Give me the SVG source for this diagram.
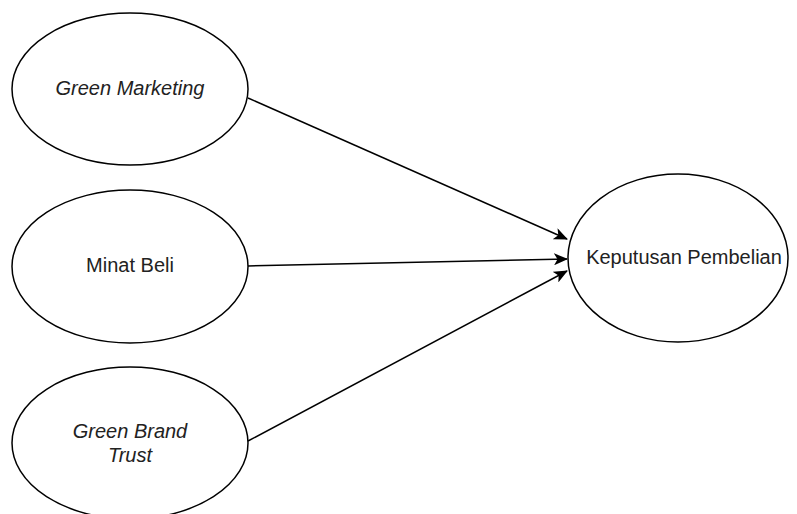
<svg xmlns="http://www.w3.org/2000/svg" width="797" height="514" viewBox="0 0 797 514">
<defs>
<style>
.node{fill:#fff;stroke:#000;stroke-width:1.5}
.lbl{font-family:"Liberation Sans",Arial,sans-serif;font-size:20px;fill:#222;text-anchor:middle;dominant-baseline:central}
.it{font-style:italic}
.edge{stroke:#000;stroke-width:1.5;fill:none;marker-end:url(#arr)}
</style>
<marker id="arr" markerWidth="14" markerHeight="12" refX="13" refY="6" orient="auto" markerUnits="userSpaceOnUse">
<path d="M0,0 L14,6 L0,12 L3.5,6 Z" fill="#000"/>
</marker>
</defs>
<rect width="797" height="514" fill="#fff"/>
<g id="edges">
<path class="edge" d="M248,98 L567,239"/>
<path class="edge" d="M248,266 L567,259"/>
<path class="edge" d="M248,441 L567,271"/>
</g>
<g id="green-marketing">
<ellipse class="node" cx="130" cy="89" rx="118" ry="76"/>
<text class="lbl it" x="130" y="88">Green Marketing</text>
</g>
<g id="minat-beli">
<ellipse class="node" cx="130" cy="266.5" rx="118" ry="76.5"/>
<text class="lbl" x="130" y="265">Minat Beli</text>
</g>
<g id="green-brand-trust">
<ellipse class="node" cx="130" cy="443" rx="118" ry="76"/>
<text class="lbl it" x="130" y="431">Green Brand</text>
<text class="lbl it" x="130" y="455">Trust</text>
</g>
<g id="keputusan-pembelian">
<ellipse class="node" cx="678" cy="258" rx="110" ry="84"/>
<text class="lbl" x="684" y="257">Keputusan Pembelian</text>
</g>
</svg>
